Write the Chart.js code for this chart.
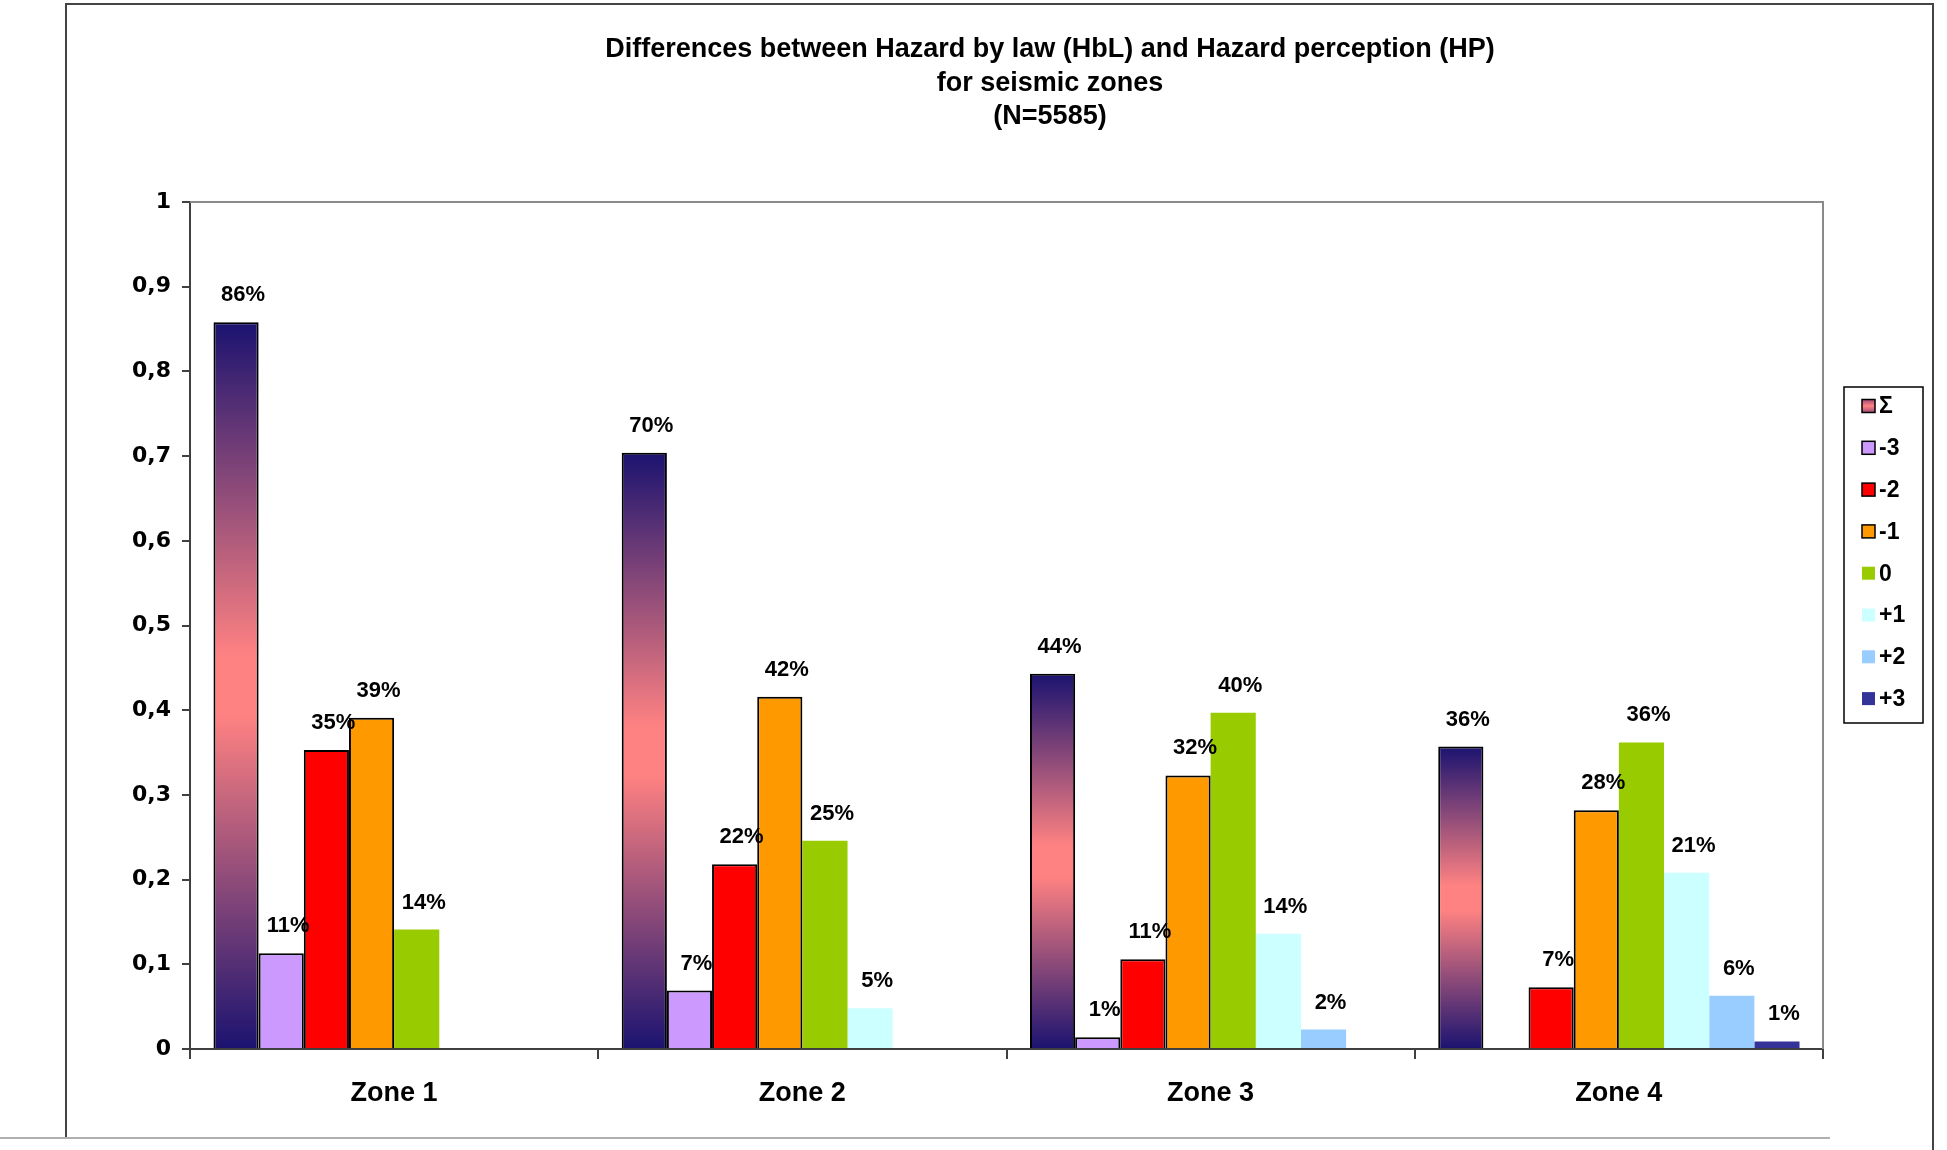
<!DOCTYPE html>
<html>
<head>
<meta charset="utf-8">
<script src="https://cdn.jsdelivr.net/npm/chart.js@4.4.0/dist/chart.umd.min.js"></script>
<style>
  html, body { margin: 0; padding: 0; background: #fff; }
  #chart { display: block; }
</style>
</head>
<body>
<canvas id="chart" width="1947" height="1150"></canvas>
<script>
// ====== data ======
const zones = ["Zone 1", "Zone 2", "Zone 3", "Zone 4"];
const seriesNames = ["\u03A3", "-3", "-2", "-1", "0", "+1", "+2", "+3"];

const sumAll = [0.858, 0.704, 0.443, 0.357];
const minus3 = [0.113, 0.069, 0.014, null];
const minus2 = [0.353, 0.218, 0.106, 0.073];
const minus1 = [0.391, 0.416, 0.323, 0.282];
const zero = [0.141, 0.246, 0.397, 0.362];
const plus1 = [null, 0.048, 0.136, 0.208];
const plus2 = [null, null, 0.023, 0.063];
const plus3 = [null, null, null, 0.009];

const yTicks = [0, 0.1, 0.2, 0.3, 0.4, 0.5, 0.6, 0.7, 0.8, 0.9, 1];

const titleLines = [
  "Differences between Hazard by law (HbL) and Hazard perception (HP)",
  "for seismic zones",
  "(N=5585)",
];

// ====== colours ======
const NAVY = "#1b1370";
const PINK = "#ff8282";
const seriesColors = ["gradient", "#cc99ff", "#ff0000", "#ff9900", "#99cc00", "#ccffff", "#99ccff", "#333399"];
const outlined = [true, true, true, true, false, false, false, false];

// navy -> pink -> navy, running along the bar height
function sigmaGradient(context) {
  const chart = context.chart;
  const yScale = chart.scales.y;
  const v = context.raw;
  if (!yScale || v == null) return PINK;
  const top = yScale.getPixelForValue(v);
  const bottom = yScale.getPixelForValue(0);
  if (!isFinite(top) || !isFinite(bottom) || top === bottom) return PINK;
  const g = chart.ctx.createLinearGradient(0, top, 0, bottom);
  g.addColorStop(0, NAVY);
  g.addColorStop(0.46, PINK);
  g.addColorStop(0.54, PINK);
  g.addColorStop(1, NAVY);
  return g;
}

const seriesValues = [sumAll, minus3, minus2, minus1, zero, plus1, plus2, plus3];

const datasets = seriesValues.map((vals, i) => ({
  label: seriesNames[i],
  data: vals,
  backgroundColor: seriesColors[i] === "gradient" ? sigmaGradient : seriesColors[i],
  borderColor: "#000",
  borderWidth: outlined[i] ? 2 : 0,
  categoryPercentage: 0.885,
  barPercentage: 1.0,
}));

// ====== plot frame, outer frame ======
const framePlugin = {
  id: "frame",
  beforeDraw(chart) {
    const ctx = chart.ctx;
    ctx.save();
    ctx.fillStyle = "#fff";
    ctx.fillRect(0, 0, chart.width, chart.height);
    // outer chart frame
    ctx.strokeStyle = "#444";
    ctx.lineWidth = 2;
    ctx.beginPath();
    ctx.moveTo(66, 1137);
    ctx.lineTo(66, 4);
    ctx.lineTo(1933, 4);
    ctx.lineTo(1933, 1150);
    ctx.stroke();
    ctx.strokeStyle = "#b0b0b0";
    ctx.beginPath();
    ctx.moveTo(0, 1138);
    ctx.lineTo(1830, 1138);
    ctx.stroke();
    ctx.restore();
  },
  beforeDatasetsDraw(chart) {
    const { ctx, chartArea: a } = chart;
    ctx.save();
    ctx.strokeStyle = "#8a8a8a";
    ctx.lineWidth = 2;
    ctx.beginPath();
    ctx.moveTo(a.left, a.top);
    ctx.lineTo(a.right, a.top);
    ctx.lineTo(a.right, a.bottom);
    ctx.stroke();
    ctx.restore();
  },
};

// ====== percent labels above bars ======
const valueLabels = {
  id: "valueLabels",
  afterDatasetsDraw(chart) {
    const ctx = chart.ctx;
    ctx.save();
    ctx.font = "bold 22px 'Liberation Sans', Arial, sans-serif";
    ctx.fillStyle = "#000";
    ctx.textAlign = "center";
    ctx.textBaseline = "middle";
    chart.data.datasets.forEach((ds, di) => {
      const meta = chart.getDatasetMeta(di);
      meta.data.forEach((bar, i) => {
        const v = ds.data[i];
        if (v == null) return;
        ctx.fillText(Math.round(v * 100) + "%", bar.x + 7, bar.y - 27);
      });
    });
    ctx.restore();
  },
};

// ====== title ======
const titlePlugin = {
  id: "titleText",
  afterDraw(chart) {
    const ctx = chart.ctx;
    ctx.save();
    ctx.font = "bold 27px 'Liberation Sans', Arial, sans-serif";
    ctx.fillStyle = "#000";
    ctx.textAlign = "center";
    ctx.textBaseline = "middle";
    titleLines.forEach((line, i) => ctx.fillText(line, 1050, 50 + i * 33.5));
    ctx.restore();
  },
};

// ====== legend box on the right ======
const legendPlugin = {
  id: "legendBox",
  afterDraw(chart) {
    const ctx = chart.ctx;
    ctx.save();
    ctx.strokeStyle = "#000";
    ctx.lineWidth = 1.5;
    ctx.strokeRect(1844, 387, 79, 336);
    ctx.font = "bold 23px 'Liberation Sans', Arial, sans-serif";
    ctx.textBaseline = "middle";
    ctx.textAlign = "left";
    chart.data.datasets.forEach((ds, i) => {
      const cy = 406 + i * 41.8;
      const x = 1862, s = 13;
      if (seriesColors[i] === "gradient") {
        const g = ctx.createLinearGradient(0, cy - s / 2, 0, cy + s / 2);
        g.addColorStop(0, "#a04a78");
        g.addColorStop(0.5, PINK);
        g.addColorStop(1, "#a04a78");
        ctx.fillStyle = g;
      } else {
        ctx.fillStyle = seriesColors[i];
      }
      ctx.fillRect(x, cy - s / 2, s, s);
      if (outlined[i]) {
        ctx.strokeStyle = "#000";
        ctx.lineWidth = 1.5;
        ctx.strokeRect(x, cy - s / 2, s, s);
      }
      ctx.fillStyle = "#000";
      ctx.fillText(ds.label, 1879, cy + 1);
    });
    ctx.restore();
  },
};

Chart.defaults.font.family = "'Liberation Sans', Arial, sans-serif";
Chart.defaults.color = "#000";

new Chart(document.getElementById("chart"), {
  type: "bar",
  data: { labels: zones, datasets },
  options: {
    responsive: false,
    animation: false,
    devicePixelRatio: 1,
    layout: { padding: { left: 66, top: 202, right: 124, bottom: 0 } },
    plugins: {
      legend: { display: false },
      title: { display: false },
      tooltip: { enabled: false },
    },
    scales: {
      x: {
        grid: {
          display: true,
          offset: true,
          drawOnChartArea: false,
          drawTicks: true,
          tickLength: 10,
          color: "#404040",
          lineWidth: 2,
        },
        border: { display: true, color: "#404040", width: 2 },
        ticks: {
          font: { size: 27, weight: "bold" },
          color: "#000",
          padding: 18,
        },
        afterFit(scale) { scale.height = 101; },
      },
      y: {
        min: 0,
        max: 1,
        afterBuildTicks(scale) { scale.ticks = yTicks.map((v) => ({ value: v })); },
        ticks: {
          font: { family: "'DejaVu Sans', Verdana, sans-serif", size: 22, weight: "bold" },
          color: "#000",
          padding: 11,
          callback: (v) => (v === 0 || v === 1 ? String(v) : v.toFixed(1).replace(".", ",")),
        },
        grid: {
          drawOnChartArea: false,
          drawTicks: true,
          tickLength: 8,
          color: "#404040",
          lineWidth: 2,
        },
        border: { display: true, color: "#404040", width: 2 },
        afterFit(scale) { scale.width = 124; },
      },
    },
  },
  plugins: [framePlugin, valueLabels, titlePlugin, legendPlugin],
});
</script>
</body>
</html>
